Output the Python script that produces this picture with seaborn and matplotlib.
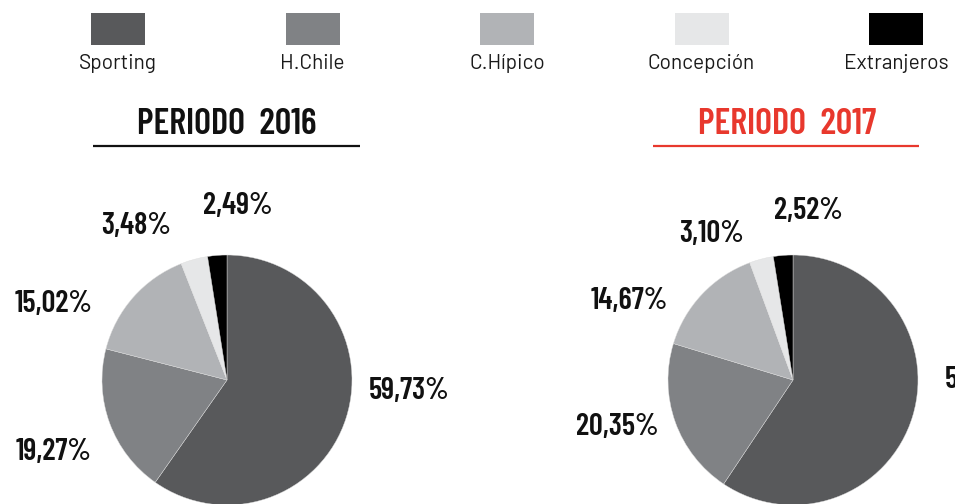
import matplotlib
matplotlib.use("Agg")
import matplotlib.pyplot as plt
import seaborn as sns

sns.set_theme(style="white")
plt.rcParams['font.family'] = ['Barlow Condensed', 'DejaVu Sans']

clubs = ['Sporting', 'H.Chile', 'C.Hípico', 'Concepción', 'Extranjeros']
colors = ['#58595b', '#808285', '#b1b3b6', '#e6e7e8', '#000000']
vals_2016 = [59.73, 19.27, 15.02, 3.48, 2.49]
vals_2017 = [59.36, 20.35, 14.67, 3.10, 2.52]
labels_2016 = ['59,73%', '19,27%', '15,02%', '3,48%', '2,49%']
labels_2017 = ['59,36%', '20,35%', '14,67%', '3,10%', '2,52%']

# layout in pixel coords (y up)
W, H = 955, 504
fig = plt.figure(figsize=(W / 100, H / 100), dpi=100)
ax = fig.add_axes([0, 0, 1, 1])

pies = [
    dict(vals=vals_2016, labels=labels_2016, cx=227, title='PERIODO  2016', tx=227,
         tcol='#111111', line=(93, 360),
         lpos=[(409, 391, 'center'), (54, 452, 'center'), (54, 304, 'center'),
               (136, 226, 'center'), (238, 206, 'center')]),
    dict(vals=vals_2017, labels=labels_2017, cx=793, title='PERIODO  2017', tx=787,
         tcol='#e8382d', line=(653, 919),
         lpos=[(945, 380, 'left'), (617, 427, 'center'), (629, 301, 'center'),
               (711, 234, 'center'), (808, 211, 'center')]),
]

for p in pies:
    ax.pie(p['vals'], colors=colors, startangle=90, counterclock=False,
           center=(p['cx'], H - 380), radius=125,
           wedgeprops=dict(linewidth=0.3, edgecolor='#dddddd'))
    for lab, (x, y, ha) in zip(p['labels'], p['lpos']):
        ax.text(x, H - y, lab, ha=ha, va='center', fontsize=22,
                fontweight=600, color='#111111')
    ax.text(p['tx'], H - 124, p['title'], ha='center', va='center',
            fontsize=26, fontweight=600, color=p['tcol'])
    ax.plot(p['line'], [H - 146, H - 146], color=p['tcol'], lw=1.6,
            solid_capstyle='butt')

# legend: swatch above name
for i, (club, c) in enumerate(zip(clubs, colors)):
    x = 118 + i * 194.5
    ax.add_patch(plt.Rectangle((x - 27, H - 45), 54, 32, color=c, lw=0))
    ax.text(x, H - 69, club, ha='center', va='baseline', fontsize=15,
            family=['Barlow', 'DejaVu Sans'], color='#1a1a1a')

ax.set_xlim(0, W)
ax.set_ylim(0, H)
ax.set_aspect('auto')
ax.axis('off')

fig.savefig('out.png', dpi=100)
